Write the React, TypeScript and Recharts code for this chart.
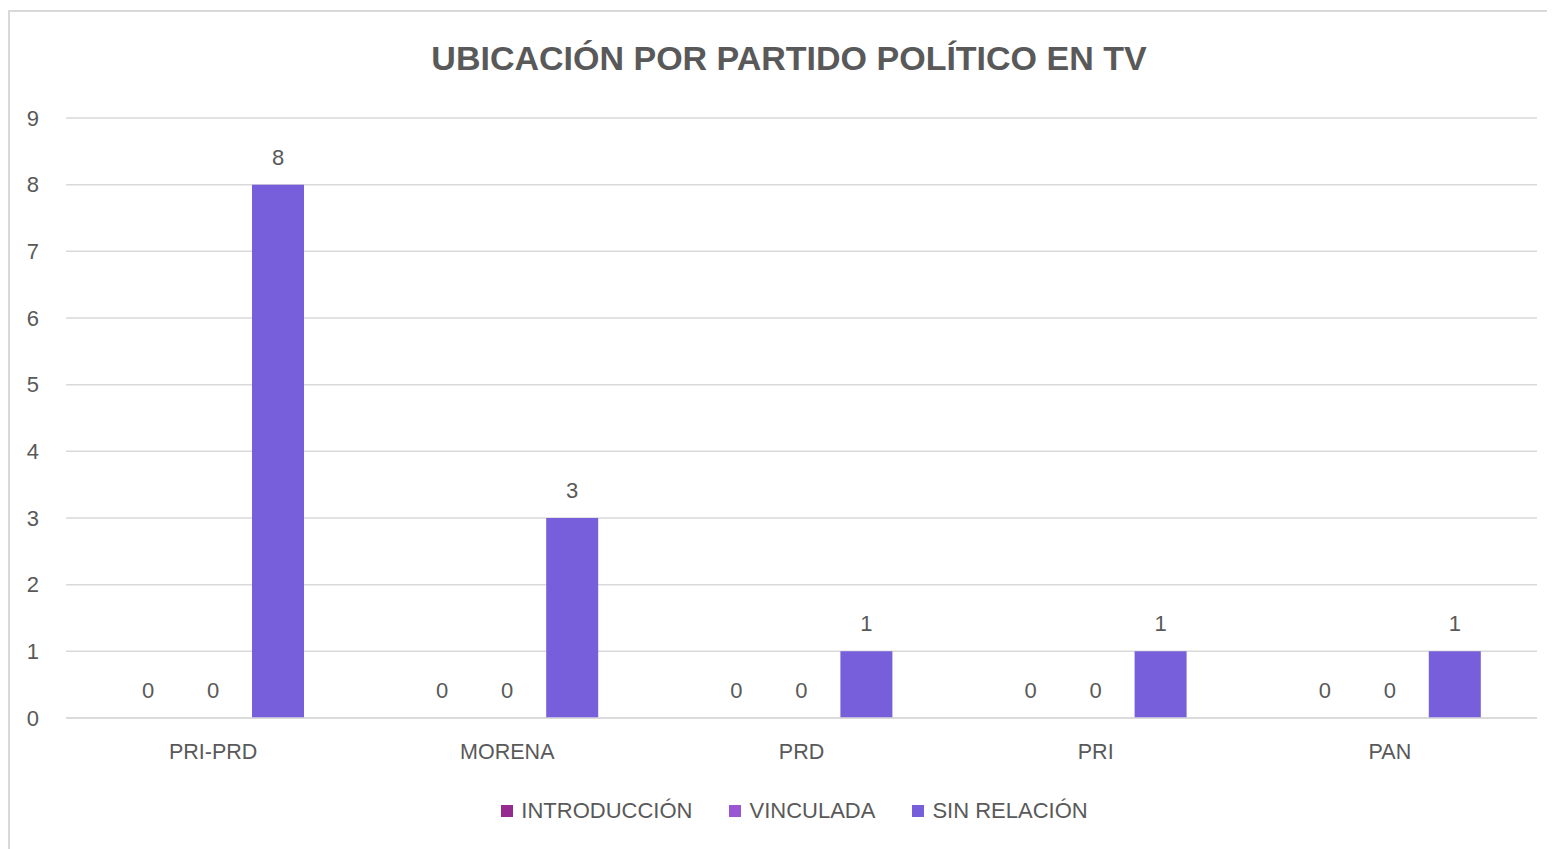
import { BarChart, Bar, XAxis, YAxis, CartesianGrid, Legend, LabelList } from "recharts";

const partidos = ["PRI-PRD", "MORENA", "PRD", "PRI", "PAN"];
const introduccion = [0, 0, 0, 0, 0];
const vinculada = [0, 0, 0, 0, 0];
const sinRelacion = [8, 3, 1, 1, 1];
const yTicks = [0, 1, 2, 3, 4, 5, 6, 7, 8, 9];

const series = [
  { key: "introduccion", name: "INTRODUCCIÓN", color: "#962B8F" },
  { key: "vinculada", name: "VINCULADA", color: "#9B57D3" },
  { key: "sinRelacion", name: "SIN RELACIÓN", color: "#775EDA" },
];

const datos = partidos.map((p, i) => ({
  partido: p,
  introduccion: introduccion[i],
  vinculada: vinculada[i],
  sinRelacion: sinRelacion[i],
}));

const FONT = '"Liberation Sans", Arial, sans-serif';
const INK = "#595959";

function LeyendaCustom() {
  return (
    <div
      style={{
        height: 30,
        display: "flex",
        justifyContent: "center",
        alignItems: "center",
        paddingLeft: 42,
        fontFamily: FONT,
        fontSize: 22,
        color: INK,
      }}
    >
      {series.map((s, i) => (
        <div
          key={s.key}
          style={{ display: "flex", alignItems: "center", marginRight: i < series.length - 1 ? 37 : 0 }}
        >
          <span style={{ width: 12, height: 12, background: s.color, marginRight: 8, display: "inline-block" }} />
          <span>{s.name}</span>
        </div>
      ))}
    </div>
  );
}

// etiqueta propia para que también salgan los ceros
function Etiqueta(props: any) {
  const { x, y, width, height, value } = props;
  if (value == null) return null;
  // con minPointSize la barra de 0 tiene una altura mínima: anclar en la base
  const top = Number(value) === 0 ? Number(y) + Number(height) : Number(y);
  return (
    <text
      x={Number(x) + Number(width) / 2}
      y={top - 20}
      textAnchor="middle"
      fill={INK}
      fontFamily={FONT}
      fontSize={22}
    >
      {String(value)}
    </text>
  );
}

export default function App() {
  return (
    <>
      <style>{"html,body{overflow:hidden}"}</style>
      <div
        style={{
          position: "relative",
          width: 1547,
          height: 839,
          marginTop: 2,
          borderLeft: "2px solid #d9d9d9",
          borderTop: "2px solid #d9d9d9",
          boxSizing: "border-box",
          background: "#fff",
        }}
      >
        <div
          style={{
            position: "absolute",
            left: 379,
            top: 26,
            width: 800,
            lineHeight: "40px",
            textAlign: "center",
            fontFamily: FONT,
            fontWeight: 700,
            fontSize: 34,
            color: INK,
            zIndex: 2,
          }}
        >
          UBICACIÓN POR PARTIDO POLÍTICO EN TV
        </div>
        <BarChart
          width={1545}
          height={837}
          data={datos}
          margin={{ top: 106, right: 18, bottom: 23, left: 0 }}
          barGap={13}
        >
          <CartesianGrid vertical={false} stroke="#d9d9d9" strokeWidth={1.5} />
          <XAxis
            dataKey="partido"
            height={78}
            tickSize={0}
            tickMargin={26}
            axisLine={{ stroke: "#d9d9d9", strokeWidth: 1.5 }}
            tickLine={false}
            tick={{ fill: INK, fontFamily: FONT, fontSize: 21.5 }}
          />
          <YAxis
            width={56}
            domain={[0, 9]}
            ticks={yTicks}
            tickSize={0}
            tickMargin={27}
            axisLine={false}
            tickLine={false}
            tick={{ fill: INK, fontFamily: FONT, fontSize: 22 }}
          />
          <Legend verticalAlign="bottom" content={<LeyendaCustom />} />
          {series.map((s) => (
            <Bar
              key={s.key}
              dataKey={s.key}
              name={s.name}
              fill={s.color}
              barSize={52}
              minPointSize={0.01}
              isAnimationActive={false}
            >
              <LabelList dataKey={s.key} content={<Etiqueta />} />
            </Bar>
          ))}
        </BarChart>
      </div>
    </>
  );
}
